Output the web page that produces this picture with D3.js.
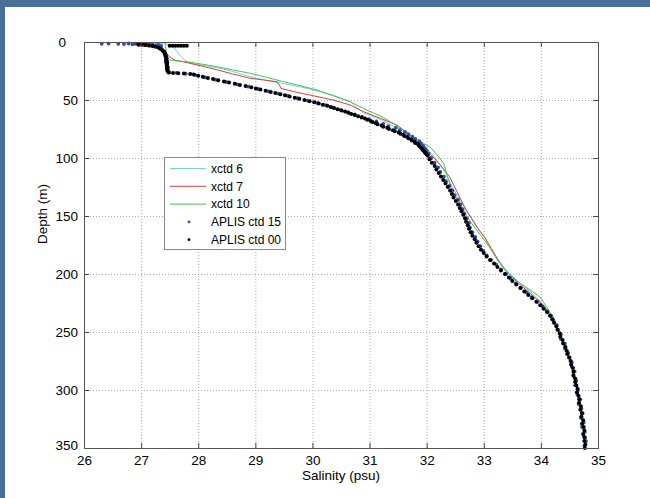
<!DOCTYPE html>
<html lang="en">
<head>
<meta charset="UTF-8">
<title>Salinity profiles</title>
<script src="https://d3js.org/d3.v7.min.js"></script>
<style>
body { margin: 0; background: #47709a; }
text { font-family: "Liberation Sans", Arial, sans-serif; }
</style>
</head>
<body>
<svg id="chart" width="650" height="498"></svg>
<script>
// tick values
const salTicks = [26, 27, 28, 29, 30, 31, 32, 33, 34, 35];
const depthTicks = [0, 50, 100, 150, 200, 250, 300, 350];

// xctd line profiles: [salinity, depth]
const xctd6 = [[27.25,1],[27.4,1.5],[27.52,2.5],[27.58,5],[27.64,9],[27.7,12.5],[27.8,17],[27.95,19],[28.2,21],[28.5,24],[28.91,29.9],[29.31,34.2],[29.78,38.5],[30.08,42.1],[30.36,45.7],[30.66,51.4],[30.89,61],[31.2,67],[31.48,74],[31.7,80.5],[31.88,87],[32.02,93],[32.14,99],[32.3,111],[32.45,125],[32.59,137],[32.77,150],[32.89,160],[33.01,168],[33.13,178],[33.26,188],[33.38,196],[33.52,203],[33.66,209],[33.85,217],[34.02,225],[34.14,233],[34.22,240],[34.31,250],[34.4,260],[34.49,270],[34.56,280],[34.6,290],[34.64,300],[34.69,312],[34.73,323],[34.76,336],[34.78,349]];
const xctd7 = [[26.95,3.5],[27.1,4],[27.25,4.5],[27.38,6],[27.44,9],[27.48,12],[27.54,14],[27.6,16],[27.73,17],[28.0,20],[28.33,24],[28.6,27.5],[28.91,31.3],[29.15,32.8],[29.38,34.2],[29.42,37],[29.45,40],[29.78,44],[30.08,47],[30.36,50],[30.66,54.3],[30.89,60],[31.2,66],[31.48,71.6],[31.68,79],[31.83,86],[31.97,92],[32.08,97.4],[32.24,106],[32.4,116],[32.54,130],[32.69,145],[32.78,152],[32.9,161],[33.01,168],[33.13,178],[33.25,188],[33.36,196],[33.5,203],[33.63,209],[33.82,217],[34.0,225],[34.13,233],[34.21,240],[34.31,250],[34.39,260],[34.48,270],[34.55,280],[34.6,290],[34.63,300],[34.68,312],[34.72,323],[34.75,336],[34.77,349]];
const xctd10 = [[27.42,0.5],[27.43,4],[27.44,8],[27.45,12],[27.46,14],[27.5,15.5],[27.8,17],[28.05,19],[28.33,21.3],[28.6,24],[28.91,27],[29.2,30.5],[29.49,34.2],[29.8,37.8],[30.08,41.4],[30.37,46.5],[30.66,51.4],[30.95,58.6],[31.2,64],[31.41,70],[31.62,77],[31.8,83],[31.95,87.5],[32.07,91],[32.18,97],[32.3,105],[32.44,127.6],[32.57,138],[32.7,150],[32.84,160],[32.97,168],[33.1,177],[33.24,188],[33.42,199],[33.64,208],[33.99,220],[34.21,237],[34.3,248],[34.39,260],[34.47,270],[34.55,280],[34.6,290],[34.63,300],[34.68,312],[34.71,323],[34.75,336],[34.77,349]];

// APLIS ctd dot profiles: [salinity, depth]
const ctd15 = [[26.31,1.5],[26.43,1.4],[26.6,1.5],[26.7,1.8],[26.78,1.3],[26.85,2.0],[26.9,1.5],[26.96,2.4],[27.0,1.7],[27.05,2.2],[27.1,1.6],[27.15,2.6],[27.2,2.1],[27.25,2.9],[27.3,2.4],[27.35,3.4],
[27.35,6],[27.4,8],[27.42,10],[27.43,12],[27.45,14],[27.44,16],[27.46,18],[27.45,20],[27.47,22],[27.46,24],[27.5,26.2],[27.62,26.6],[27.78,27.3],
[27.95,28.5],[28.12,30.5],[28.3,32.5],[28.49,34.5],[28.68,36.5],[28.88,38.5],[29.05,40.5],[29.23,42.5],[29.4,44.5],[29.57,46.5],[29.74,48.5],[29.91,50.5],[30.08,52.5],[30.23,54.5],[30.36,56.5],[30.49,58.5],[30.62,60.5],[30.74,62.5],[30.87,64.5],[30.99,66.5],[31.12,68.5],[31.24,70.5],[31.33,72.5],[31.46,74],[31.53,76],[31.62,77.5],[31.68,79.5],[31.75,81.5],[31.8,83.5],[31.87,85.5],[31.9,87.5],[31.94,89.5],[31.97,91.5],[32.0,93.5],[32.03,96],
[32.08,100],[32.14,104],[32.2,108],[32.24,112],[32.3,116],[32.34,120],[32.4,124],[32.45,128],[32.49,132],[32.55,136],[32.59,140],[32.63,144],[32.66,148],[32.7,152],[32.74,156],[32.76,160],[32.8,164],[32.85,168],[32.89,172],[32.94,176],[32.99,180],[33.05,184],[33.13,188],[33.22,192],[33.3,196],[33.39,200],[33.47,204],[33.56,208],[33.65,212],[33.75,216],[33.84,220],[33.94,224],[34.03,228],[34.1,232],[34.18,236],[34.22,240],[34.28,244],[34.3,248],[34.35,252],[34.35,256],[34.42,260],[34.42,264],[34.48,268],[34.49,272],[34.54,276],[34.54,280],[34.59,284],[34.57,288],[34.62,292],[34.6,296],[34.65,300],[34.64,304],[34.69,308],[34.66,312],[34.71,316],[34.73,320],[34.7,324],[34.75,328],[34.72,332],[34.77,336],[34.75,340],[34.79,344],[34.76,348]];
const ctd00 = [[26.95,2.2],[27.02,1.8],[27.08,2.6],[27.14,3.0],[27.2,3.5],[27.25,4.1],[27.3,4.7],[27.33,5.5],[27.36,6.5],[27.38,7.5],[27.4,8.5],[27.41,9.5],[27.42,10.5],[27.43,11.5],[27.43,12.5],[27.44,13.5],[27.44,14.5],[27.44,15.5],[27.45,16.5],[27.44,17.5],[27.45,18.5],[27.45,19.5],[27.45,20.5],[27.46,21.5],[27.45,22.5],[27.46,23.5],[27.46,24.5],[27.47,25.5],[27.48,26.3],
[27.5,3.3],[27.55,3.2],[27.6,3.3],[27.65,3.3],[27.7,3.2],[27.75,3.3],[27.8,3.2],
[27.56,26.8],[27.65,27.0],[27.75,27.2],[27.86,27.6],
[27.92,28],[28.0,29],[28.08,30],[28.17,31],[28.26,32],[28.35,33],[28.45,34],[28.54,35],[28.64,36],[28.73,37],[28.83,38],[28.93,39],[29.01,40],[29.09,41],[29.18,42],[29.27,43],[29.35,44],[29.44,45],[29.52,46],[29.6,47],[29.69,48],[29.77,49],[29.86,50],[29.95,51],[30.03,52],[30.11,53],[30.18,54],[30.26,55],[30.32,56],[30.38,57],[30.44,58],[30.51,59],[30.57,60],[30.63,61],[30.68,62],[30.74,63],[30.8,64],[30.86,65],[30.92,66],[30.96,67],[31.02,68],[31.05,69],[31.11,70],[31.14,71],[31.21,72],[31.24,73],[31.31,74],[31.34,75],[31.41,76],[31.44,77],[31.51,78],[31.54,79],[31.59,80],[31.61,81],[31.66,82],[31.68,83],[31.73,84],[31.74,85],[31.79,86],[31.8,87],[31.85,88],[31.86,89],[31.88,90],[31.9,91],[31.92,92],[31.93,93],[31.95,94],[31.97,95],[31.98,96],[32.0,97],[32.02,98],
[32.05,101],[32.09,104],[32.14,107],[32.17,110],[32.21,113],[32.25,116],[32.29,119],[32.33,122],[32.37,125],[32.41,128],[32.44,131],[32.47,134],[32.51,137],[32.55,140],[32.58,143],[32.61,146],[32.64,149],[32.67,152],[32.69,155],[32.72,158],[32.74,161],[32.77,164],[32.8,167],[32.84,170],[32.87,173],[32.91,176],[32.95,179],[33.0,182],[33.05,185],[33.11,188],[33.18,191],[33.24,194],[33.3,197],[33.37,200],[33.44,203],[33.5,206],[33.57,209],[33.64,212],[33.71,215],[33.78,218],[33.85,221],[33.92,224],[33.99,227],[34.05,230],[34.11,233],[34.16,236],[34.2,239],[34.23,242],[34.27,245],[34.29,248],[34.33,251],[34.34,254],[34.38,257],[34.39,260],[34.43,263],[34.45,266],[34.46,269],[34.5,272],[34.52,275],[34.53,278],[34.56,281],[34.57,284],[34.57,287],[34.6,290],[34.6,293],[34.62,296],[34.64,299],[34.63,302],[34.66,305],[34.67,308],[34.67,311],[34.7,314],[34.69,317],[34.72,320],[34.71,323],[34.74,326],[34.72,329],[34.75,332],[34.76,335],[34.74,338],[34.77,341],[34.76,344],[34.78,347],[34.77,350]];

const svg = d3.select("#chart");

// white slide panel
svg.append("rect")
    .attr("x", 5).attr("y", 7)
    .attr("width", 645).attr("height", 491)
    .attr("fill", "#fff");

const x = d3.scaleLinear().domain([26, 35]).range([84, 598]);
const y = d3.scaleLinear().domain([0, 350]).range([42, 448]);

// dotted grid
const grid = svg.append("g")
    .attr("stroke", "#aaa")
    .attr("stroke-dasharray", "1,2");
grid.selectAll("line.gx")
    .data(salTicks.slice(1, -1))
    .join("line")
    .attr("x1", d => x(d) + 0.5).attr("x2", d => x(d) + 0.5)
    .attr("y1", y(0)).attr("y2", y(350));
grid.selectAll("line.gy")
    .data(depthTicks.slice(1, -1))
    .join("line")
    .attr("class", "gy")
    .attr("y1", d => y(d) + 0.5).attr("y2", d => y(d) + 0.5)
    .attr("x1", x(26)).attr("x2", x(35));

// profiles
const line = d3.line().x(d => x(d[0])).y(d => y(d[1]));
const lines = [
    { data: xctd6, color: "#72d4e6" },
    { data: xctd7, color: "#d8403a" },
    { data: xctd10, color: "#48c248" }
];
svg.selectAll("path.prof")
    .data(lines)
    .join("path")
    .attr("class", "prof")
    .attr("fill", "none")
    .attr("stroke", d => d.color)
    .attr("stroke-width", 1)
    .attr("d", d => line(d.data));

svg.append("g").attr("fill", "#2b4ea6")
    .selectAll("circle")
    .data(ctd15)
    .join("circle")
    .attr("cx", d => x(d[0])).attr("cy", d => y(d[1]))
    .attr("r", 1.9);

svg.append("g").attr("fill", "#000")
    .selectAll("circle")
    .data(ctd00)
    .join("circle")
    .attr("cx", d => x(d[0])).attr("cy", d => y(d[1]))
    .attr("r", 2);

// axes, ticks pointing inward
function styleAxis(g) {
    g.select(".domain").remove();
    g.selectAll(".tick line").attr("stroke", "#444");
    g.selectAll("text").attr("fill", "#000").style("font-size", "13.5px");
}
svg.append("g")
    .attr("transform", `translate(0,${y(350)})`)
    .call(d3.axisBottom(x).tickValues(salTicks).tickSize(-5).tickPadding(7))
    .call(styleAxis);
svg.append("g")
    .attr("transform", `translate(0,${y(0)})`)
    .call(d3.axisTop(x).tickValues(salTicks).tickSize(-5).tickFormat(""))
    .call(styleAxis);
const yAxis = svg.append("g")
    .attr("transform", `translate(${x(26)},0)`)
    .call(d3.axisLeft(y).tickValues(depthTicks).tickSize(-5).tickPadding(6))
    .call(styleAxis);
yAxis.selectAll(".tick text").filter(d => d === 0).attr("dx", -12);
yAxis.selectAll(".tick text").filter(d => d === 350).attr("dy", "0.1em");
svg.append("g")
    .attr("transform", `translate(${x(35)},0)`)
    .call(d3.axisRight(y).tickValues(depthTicks).tickSize(-5).tickFormat(""))
    .call(styleAxis);

svg.append("rect")
    .attr("x", x(26) + 0.5).attr("y", y(0) + 0.5)
    .attr("width", x(35) - x(26)).attr("height", y(350) - y(0))
    .attr("fill", "none")
    .attr("stroke", "#555");

// axis titles
svg.append("text")
    .attr("x", (x(26) + x(35)) / 2)
    .attr("y", 480)
    .attr("text-anchor", "middle")
    .style("font-size", "13.5px")
    .text("Salinity (psu)");
svg.append("text")
    .attr("transform", "translate(47,214) rotate(-90)")
    .attr("text-anchor", "middle")
    .style("font-size", "13.5px")
    .text("Depth (m)");

// legend
const legendItems = [
    { name: "xctd 6", color: "#72d4e6", dot: false },
    { name: "xctd 7", color: "#d8403a", dot: false },
    { name: "xctd 10", color: "#48c248", dot: false },
    { name: "APLIS ctd 15", color: "#2b4ea6", dot: true },
    { name: "APLIS ctd 00", color: "#000", dot: true }
];
const legend = svg.append("g").attr("transform", "translate(164,157)");
legend.append("rect")
    .attr("x", 0.5).attr("y", 0.5)
    .attr("width", 121).attr("height", 92)
    .attr("fill", "#fff")
    .attr("stroke", "#888");
const item = legend.selectAll("g.item")
    .data(legendItems)
    .join("g")
    .attr("class", "item")
    .attr("transform", (d, i) => `translate(0,${11.5 + i * 17.8})`);
item.filter(d => !d.dot).append("line")
    .attr("x1", 6).attr("x2", 42)
    .attr("stroke", d => d.color);
item.filter(d => d.dot).append("circle")
    .attr("cx", 25).attr("r", 1.4)
    .attr("fill", d => d.color);
item.append("text")
    .attr("x", 47)
    .attr("dy", "0.35em")
    .style("font-size", "12px")
    .text(d => d.name);
</script>
</body>
</html>
